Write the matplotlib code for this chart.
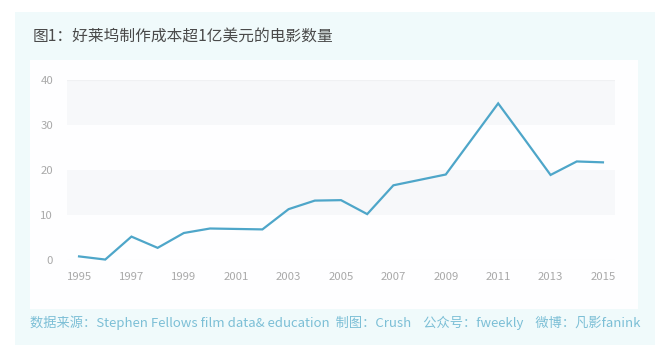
import matplotlib
matplotlib.use("Agg")
import matplotlib.pyplot as plt
from matplotlib.patches import Rectangle

plt.rcParams['font.family'] = ['Noto Sans CJK SC', 'DejaVu Sans']

years = list(range(1995, 2016))
counts = [0.8, 0.1, 5.2, 2.7, 6.0, 7.0, 6.9, 6.8, 11.3, 13.2, 13.3, 10.2,
          16.6, 17.8, 19.0, 26.9, 34.8, 26.9, 18.9, 21.9, 21.7]
xticks = list(range(1995, 2016, 2))
yticks = [0, 10, 20, 30, 40]
title = "图1：好莱坞制作成本超1亿美元的电影数量"
footer = "数据来源：Stephen Fellows film data& education  制图：Crush    公众号：fweekly    微博：凡影fanink"

W, H = 669, 349
fig = plt.figure(figsize=(W / 100, H / 100), dpi=100)
fig.patch.set_facecolor("white")

def px_rect(x0, y0, x1, y1, color, z=0):
    fig.patches.append(Rectangle((x0 / W, 1 - y1 / H), (x1 - x0) / W, (y1 - y0) / H,
                                 transform=fig.transFigure, facecolor=color,
                                 edgecolor="none", zorder=z))

px_rect(15, 12, 655, 345, "#f0fafb", z=-3)
px_rect(30, 60, 638, 309, "#fefeff", z=-2)

fig.text(33 / W, 1 - 37 / H, title, fontsize=11.3, color="#4a4a4a",
         ha="left", va="center")
fig.text(30 / W, 1 - 323 / H, footer, fontsize=9.5, color="#7cbfd6",
         ha="left", va="center")

ax = fig.add_axes([67 / W, 1 - 260 / H, (615 - 67) / W, (260 - 80) / H])
ax.set_facecolor("none")
ax.set_xlim(1994.54, 2015.46)
ax.set_ylim(0, 40)

for lo, hi in [(10, 20), (30, 40)]:
    ax.axhspan(lo, hi, color="#f7f8fa", lw=0, zorder=0)
for yv in [0, 40]:
    ax.axhline(yv, color="#f0f1f3", lw=0.8, zorder=1)

ax.plot(years, counts, color="#4ea6c9", lw=1.6, zorder=3, clip_on=False,
        solid_joinstyle="miter")

for s in ax.spines.values():
    s.set_visible(False)
ax.set_xticks(xticks)
ax.set_xticklabels([str(x) for x in xticks])
ax.set_yticks(yticks)
ax.set_yticklabels([str(y) for y in yticks])
ax.tick_params(axis="both", length=0, labelsize=8.2, labelcolor="#a9a9a9")
ax.tick_params(axis="x", pad=9)
ax.tick_params(axis="y", pad=10)

fig.savefig("out.png", dpi=100, facecolor="white")
